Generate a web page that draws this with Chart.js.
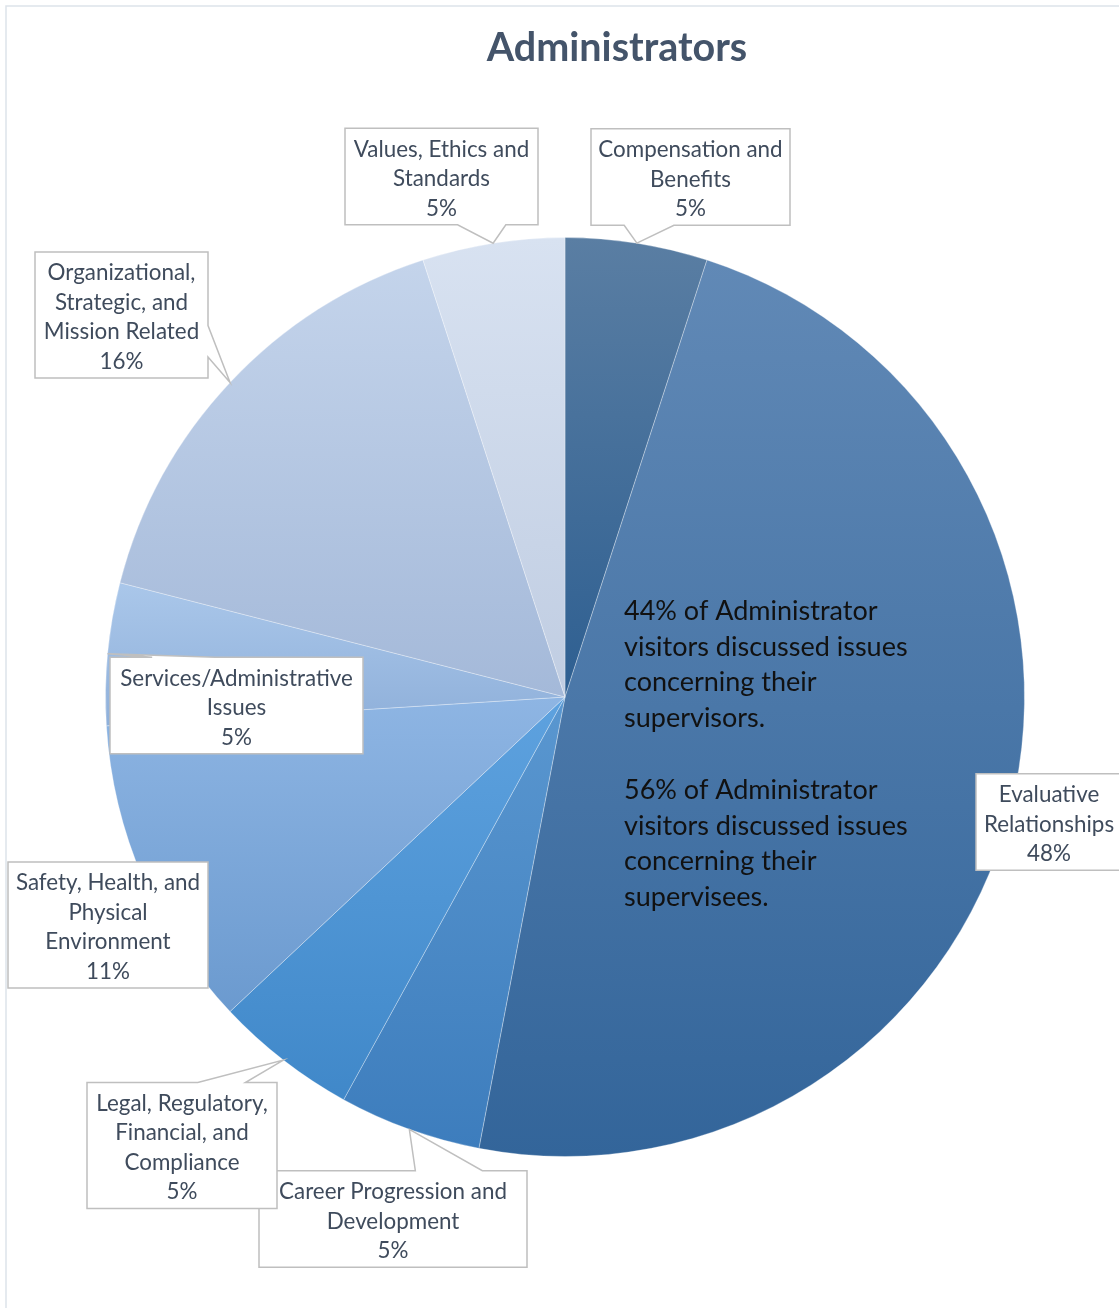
<!DOCTYPE html>
<html>
<head>
<meta charset="utf-8">
<title>Administrators</title>
<script src="https://cdn.jsdelivr.net/npm/chart.js@4.4.0/dist/chart.umd.min.js"></script>
<style>
  html, body { margin: 0; padding: 0; background: #fff; }
  canvas { display: block; }
</style>
</head>
<body>
<canvas id="admin-pie" width="1119" height="1308"></canvas>
<script>
// Issue categories, clockwise from 12 o'clock
const categories = [
  'Compensation and Benefits',
  'Evaluative Relationships',
  'Career Progression and Development',
  'Legal, Regulatory, Financial, and Compliance',
  'Safety, Health, and Physical Environment',
  'Services/Administrative Issues',
  'Organizational, Strategic, and Mission Related',
  'Values, Ethics and Standards'
];
// share of visitors, percent
const shares = [5, 48, 5, 5, 11, 5, 16, 5];

// how each category name wraps inside its label box
const labelLines = [
  ['Compensation and', 'Benefits'],
  ['Evaluative', 'Relationships'],
  ['Career Progression and', 'Development'],
  ['Legal, Regulatory,', 'Financial, and', 'Compliance'],
  ['Safety, Health, and', 'Physical', 'Environment'],
  ['Services/Administrative', 'Issues'],
  ['Organizational,', 'Strategic, and', 'Mission Related'],
  ['Values, Ethics and', 'Standards']
];

const noteLines = [
  '44% of Administrator',
  'visitors discussed issues',
  'concerning their',
  'supervisors.',
  '',
  '56% of Administrator',
  'visitors discussed issues',
  'concerning their',
  'supervisees.'
];

// slice gradient, top colour then bottom colour
const topColors    = ['#5a7ea3', '#6189b6', '#5a97d0', '#5ea2df', '#8eb5e3', '#aac7ea', '#c4d4eb', '#d8e2f1'];
const bottomColors = ['#2e5f91', '#33659a', '#3d7dbd', '#4088c9', '#6b9acf', '#8fb0da', '#a4b9d9', '#c0cde2'];

// label boxes: centre offset from the pie centre, width, and whether a pointer is drawn
const calloutOffsets = [
  [125.5, -520], [484, 125], [-172, 522], [-383, 448.5],
  [-457, 228], [-328.5, 8.5], [-443.5, -382], [-123.5, -520.5]
];
const calloutWidths = [199, 146, 268, 190, 200, 253, 173, 193];
const calloutPointer = [true, false, true, true, true, true, true, true];

const LABEL_FONT = '22.4px Lato, "Open Sans", sans-serif';
const LABEL_LINE = 29.5;

// vertical gradient spanning the slice's own bounding box
function sliceGradient(context) {
  const chart = context.chart;
  const area = chart.chartArea;
  const i = context.dataIndex;
  if (!area || i === undefined) return topColors[i || 0];
  const cx = (area.left + area.right) / 2;
  const cy = (area.top + area.bottom) / 2;
  const r = Math.min(area.width, area.height) / 2;
  const total = shares.reduce((a, b) => a + b, 0);
  const before = shares.slice(0, i).reduce((a, b) => a + b, 0);
  const a0 = -Math.PI / 2 + 2 * Math.PI * before / total;
  const a1 = a0 + 2 * Math.PI * shares[i] / total;
  const ys = [cy, cy + r * Math.sin(a0), cy + r * Math.sin(a1)];
  if (a0 <= Math.PI / 2 && a1 >= Math.PI / 2) ys.push(cy + r);
  if (a0 <= -Math.PI / 2 + 1e-9 || a1 >= 3 * Math.PI / 2 - 1e-9) ys.push(cy - r);
  const yMin = Math.min(...ys), yMax = Math.max(...ys);
  const g = chart.ctx.createLinearGradient(0, yMin, 0, yMax);
  g.addColorStop(0, topColors[i]);
  g.addColorStop(1, bottomColors[i]);
  return g;
}

// rectangle with a wedge pointing at the slice
function calloutPath(ctx, l, t, w, h, tip) {
  const inside = tip.x >= l && tip.x <= l + w && tip.y >= t && tip.y <= t + h;
  ctx.beginPath();
  if (!tip.show || inside) {
    ctx.rect(l, t, w, h);
    return;
  }
  const dx = tip.x - (l + w / 2);
  const dy = tip.y - (t + h / 2);
  const vertical = Math.abs(dy) - Math.abs(dx * h / w) > 0;
  const x1 = l + w * (dx > 0 ? 7 : 2) / 12, x2 = l + w * (dx > 0 ? 10 : 5) / 12;
  const y1 = t + h * (dy > 0 ? 7 : 2) / 12, y2 = t + h * (dy > 0 ? 10 : 5) / 12;
  ctx.moveTo(l, t);
  if (vertical && dy < 0) { ctx.lineTo(x1, t); ctx.lineTo(tip.x, tip.y); ctx.lineTo(x2, t); }
  ctx.lineTo(l + w, t);
  if (!vertical && dx > 0) { ctx.lineTo(l + w, y1); ctx.lineTo(tip.x, tip.y); ctx.lineTo(l + w, y2); }
  ctx.lineTo(l + w, t + h);
  if (vertical && dy > 0) { ctx.lineTo(x2, t + h); ctx.lineTo(tip.x, tip.y); ctx.lineTo(x1, t + h); }
  ctx.lineTo(l, t + h);
  if (!vertical && dx < 0) { ctx.lineTo(l, y2); ctx.lineTo(tip.x, tip.y); ctx.lineTo(l, y1); }
  ctx.closePath();
}

const framePlugin = {
  id: 'frame',
  beforeDraw(chart) {
    const ctx = chart.ctx;
    ctx.save();
    ctx.fillStyle = '#fff';
    ctx.fillRect(0, 0, chart.width, chart.height);
    ctx.strokeStyle = '#dde3ea';
    ctx.lineWidth = 1.5;
    ctx.strokeRect(6, 6, chart.width + 20, chart.height + 20);
    // title
    ctx.fillStyle = '#44546a';
    ctx.font = 'bold 39.5px Lato, "Open Sans", sans-serif';
    ctx.textAlign = 'center';
    ctx.textBaseline = 'middle';
    ctx.fillText('Administrators', 617, 48);
    ctx.restore();
  }
};

const calloutPlugin = {
  id: 'callouts',
  afterDatasetsDraw(chart) {
    const ctx = chart.ctx;
    const arcs = chart.getDatasetMeta(0).data;
    const cx = arcs[0].x, cy = arcs[0].y;
    ctx.save();

    // note inside the large slice
    ctx.fillStyle = '#111';
    ctx.font = '27px Lato, "Open Sans", sans-serif';
    ctx.textAlign = 'left';
    ctx.textBaseline = 'middle';
    noteLines.forEach((line, k) => {
      if (line) ctx.fillText(line, cx + 59, cy - 86 + k * 35.8);
    });

    ctx.font = LABEL_FONT;
    ctx.textAlign = 'center';
    arcs.forEach((arc, i) => {
      const lines = labelLines[i].concat([shares[i] + '%']);
      const mid = (arc.startAngle + arc.endAngle) / 2;
      const tip = {
        x: arc.x + arc.outerRadius * Math.cos(mid),
        y: arc.y + arc.outerRadius * Math.sin(mid),
        show: calloutPointer[i]
      };
      const w = calloutWidths[i];
      const h = lines.length * LABEL_LINE + 8;
      const bx = cx + calloutOffsets[i][0], by = cy + calloutOffsets[i][1];
      const l = bx - w / 2, t = by - h / 2;

      calloutPath(ctx, l, t, w, h, tip);
      ctx.fillStyle = '#fff';
      ctx.fill();
      ctx.strokeStyle = '#bfbfbf';
      ctx.lineWidth = 1.5;
      ctx.stroke();

      ctx.fillStyle = '#3f4b5c';
      lines.forEach((s, k) => {
        ctx.fillText(s, bx, t + 4 + LABEL_LINE * (k + 0.5) + 2.5);
      });
    });
    ctx.restore();
  }
};

new Chart(document.getElementById('admin-pie'), {
  type: 'pie',
  data: {
    labels: categories,
    datasets: [{
      data: shares,
      backgroundColor: sliceGradient,
      borderColor: 'rgba(255,255,255,0.3)',
      borderWidth: 1
    }]
  },
  options: {
    responsive: false,
    animation: false,
    events: [],
    layout: {
      padding: { left: 105, right: 94, top: 237, bottom: 151 }
    },
    plugins: {
      legend: { display: false },
      title: { display: false },
      tooltip: { enabled: false }
    }
  },
  plugins: [framePlugin, calloutPlugin]
});
</script>
</body>
</html>
